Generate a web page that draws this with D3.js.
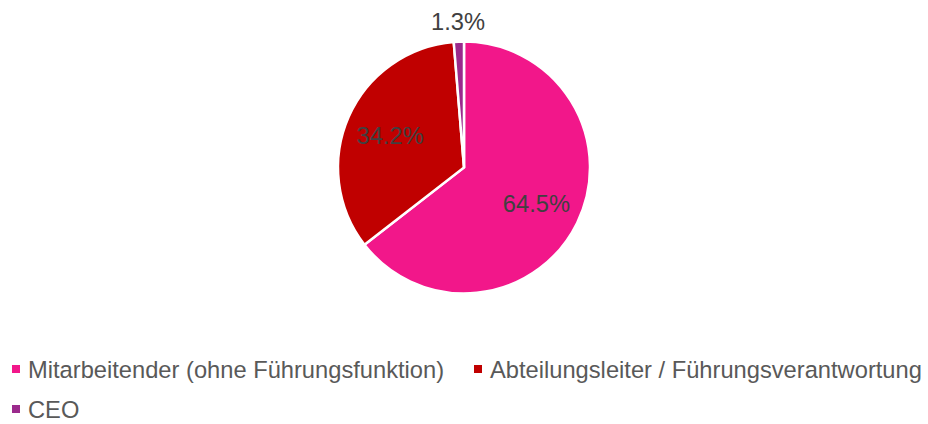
<!DOCTYPE html>
<html>
<head>
<meta charset="utf-8">
<script src="https://cdn.jsdelivr.net/npm/d3@7"></script>
<style>
  body { margin: 0; background: #fff; }
  text { font-family: "Liberation Sans", Arial, sans-serif; }
</style>
</head>
<body>
<div id="chart"></div>
<script>

const width = 928;
const height = 424;

// data
const categories = ["Mitarbeitender (ohne Führungsfunktion)", "Abteilungsleiter / Führungsverantwortung", "CEO"];
const values = [64.5, 34.2, 1.3];
const colors = ["#F2178A", "#C00000", "#9B2A8C"];

const cx = 464, cy = 167.5, radius = 126;
const fontSize = 23.7;

const svg = d3.select("#chart").append("svg")
    .attr("width", width)
    .attr("height", height);

const pie = d3.pie().sort(null).value(d => d)(values);

const arc = d3.arc().innerRadius(0).outerRadius(radius);

const g = svg.append("g")
    .attr("transform", "translate(" + cx + "," + cy + ")");

g.selectAll("path")
  .data(pie)
  .join("path")
    .attr("d", arc)
    .attr("fill", (d, i) => colors[i])
    .attr("stroke", "#fff")
    .attr("stroke-width", 2.5)
    .attr("stroke-linejoin", "miter");

// labels: inside for the big slices, outside for the tiny one
const labelArc = d3.arc().innerRadius(radius * 0.64).outerRadius(radius * 0.64);
const outerArc = d3.arc().innerRadius(radius + 20).outerRadius(radius + 20);

g.selectAll("text.lbl")
  .data(pie)
  .join("text")
    .attr("class", "lbl")
    .attr("transform", (d, i) => {
      const c = d.data < 5 ? outerArc.centroid(d) : labelArc.centroid(d);
      return "translate(" + c + ")";
    })
    .attr("text-anchor", "middle")
    .attr("dy", "0.36em")
    .attr("font-size", fontSize)
    .attr("fill", "#404040")
    .text(d => d.data.toFixed(1) + "%");

// legend
const legendPos = [[12, 378], [474, 378], [12, 418]];
const legend = svg.append("g");
const item = legend.selectAll("g")
  .data(categories)
  .join("g")
    .attr("transform", (d, i) => "translate(" + legendPos[i][0] + "," + legendPos[i][1] + ")");

item.append("rect")
    .attr("x", 0)
    .attr("y", -13)
    .attr("width", 8)
    .attr("height", 8)
    .attr("fill", (d, i) => colors[i]);

item.append("text")
    .attr("x", 16)
    .attr("y", 0)
    .attr("font-size", fontSize)
    .attr("fill", "#595959")
    .text(d => d);

</script>
</body>
</html>
